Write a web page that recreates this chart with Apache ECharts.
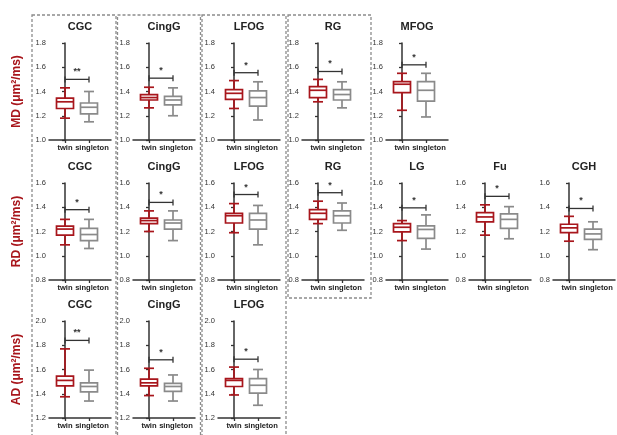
<!DOCTYPE html>
<html><head><meta charset="utf-8">
<script src="https://cdn.jsdelivr.net/npm/echarts@6/dist/echarts.min.js"></script>
<style>html,body{margin:0;padding:0;background:#fff}#c{width:617px;height:435px}</style>
</head><body><div id="c"></div>
<script>
// ---------------- data ----------------
const categories = ['twin', 'singleton'];
const measureNames = ['MD (μm²/ms)', 'RD (μm²/ms)', 'AD (μm²/ms)'];

// box data: [min, Q1, median, Q3, max]
const mdRegions = ['CGC', 'CingG', 'LFOG', 'RG', 'MFOG'];
const mdTwin = [
  [1.18, 1.26, 1.315, 1.345, 1.43],
  [1.265, 1.33, 1.35, 1.375, 1.435],
  [1.26, 1.335, 1.385, 1.415, 1.49],
  [1.315, 1.35, 1.41, 1.44, 1.50],
  [1.245, 1.39, 1.46, 1.482, 1.55]
];
const mdSingleton = [
  [1.15, 1.215, 1.27, 1.305, 1.40],
  [1.20, 1.29, 1.33, 1.36, 1.43],
  [1.165, 1.28, 1.35, 1.405, 1.48],
  [1.265, 1.33, 1.375, 1.415, 1.48],
  [1.19, 1.32, 1.41, 1.482, 1.55]
];
const mdBracket = [1.50, 1.51, 1.555, 1.565, 1.62];
const mdStars = ['**', '*', '*', '*', '*'];
const mdRange = [1.0, 1.8];

const rdRegions = ['CGC', 'CingG', 'LFOG', 'RG', 'LG', 'Fu', 'CGH'];
const rdTwin = [
  [1.09, 1.17, 1.22, 1.245, 1.30],
  [1.20, 1.265, 1.29, 1.31, 1.37],
  [1.19, 1.27, 1.33, 1.35, 1.43],
  [1.265, 1.30, 1.35, 1.38, 1.45],
  [1.125, 1.197, 1.235, 1.265, 1.29],
  [1.17, 1.28, 1.32, 1.355, 1.42],
  [1.12, 1.19, 1.23, 1.26, 1.325]
];
const rdSingleton = [
  [1.06, 1.125, 1.175, 1.225, 1.30],
  [1.125, 1.22, 1.27, 1.295, 1.37],
  [1.09, 1.22, 1.295, 1.35, 1.415],
  [1.21, 1.27, 1.33, 1.37, 1.435],
  [1.055, 1.143, 1.217, 1.247, 1.337],
  [1.14, 1.225, 1.30, 1.345, 1.405],
  [1.05, 1.135, 1.18, 1.22, 1.28]
];
const rdBracket = [1.38, 1.44, 1.505, 1.52, 1.395, 1.49, 1.39];
const rdStars = ['*', '*', '*', '*', '*', '*', '*'];
const rdRange = [0.8, 1.6];

const adRegions = ['CGC', 'CingG', 'LFOG'];
const adTwin = [
  [1.375, 1.465, 1.51, 1.545, 1.77],
  [1.385, 1.465, 1.49, 1.52, 1.61],
  [1.39, 1.46, 1.51, 1.525, 1.62]
];
const adSingleton = [
  [1.34, 1.415, 1.46, 1.49, 1.595],
  [1.34, 1.42, 1.46, 1.485, 1.555],
  [1.305, 1.405, 1.47, 1.525, 1.60]
];
const adBracket = [1.84, 1.68, 1.685];
const adStars = ['**', '*', '*'];
const adRange = [1.2, 2.0];

const yTickStep = 0.2;

// ---------------- layout / style ----------------
const colX = [49, 133, 218, 302, 386, 469, 553];
const rowTop = [43, 183, 321];
const plotW = 62, plotH = 97;
const pxPerCat = 24, firstCatOffset = 16;
const twinColor = '#a8161c';
const singletonColor = '#8a8a8a';
const axisColor = '#333';
const FONT = '"Liberation Sans", Arial, sans-serif';

const rows = [
  {regions: mdRegions, twin: mdTwin, single: mdSingleton, bracket: mdBracket, stars: mdStars, range: mdRange},
  {regions: rdRegions, twin: rdTwin, single: rdSingleton, bracket: rdBracket, stars: rdStars, range: rdRange},
  {regions: adRegions, twin: adTwin, single: adSingleton, bracket: adBracket, stars: adStars, range: adRange}
];

function renderBox(params, api) {
  const x = api.value(0);
  const c = x === 0 ? twinColor : singletonColor;
  const pMin = api.coord([x, api.value(1)]);
  const pQ1 = api.coord([x, api.value(2)]);
  const pMed = api.coord([x, api.value(3)]);
  const pQ3 = api.coord([x, api.value(4)]);
  const pMax = api.coord([x, api.value(5)]);
  const hw = 8.5, cw = 5, lw = 1.7;
  const ls = () => ({stroke: c, lineWidth: lw});
  const cx = pMed[0];
  return {type: 'group', children: [
    {type: 'line', shape: {x1: cx, y1: pMax[1], x2: cx, y2: pQ3[1]}, style: ls()},
    {type: 'line', shape: {x1: cx, y1: pQ1[1], x2: cx, y2: pMin[1]}, style: ls()},
    {type: 'line', shape: {x1: cx - cw, y1: pMax[1], x2: cx + cw, y2: pMax[1]}, style: ls()},
    {type: 'line', shape: {x1: cx - cw, y1: pMin[1], x2: cx + cw, y2: pMin[1]}, style: ls()},
    {type: 'rect', shape: {x: cx - hw, y: pQ3[1], width: 2 * hw, height: pQ1[1] - pQ3[1]}, style: {stroke: c, lineWidth: lw, fill: '#fff'}},
    {type: 'line', shape: {x1: cx - hw, y1: pMed[1], x2: cx + hw, y2: pMed[1]}, style: ls()}
  ]};
}

function renderBracket(params, api) {
  const x0 = api.value(0);
  const v = api.value(1);
  const p0 = api.coord([x0, v]);
  const p1 = api.coord([x0 + 1, v]);
  const star = params.context.star;
  const st = () => ({stroke: axisColor, lineWidth: 1.3});
  return {type: 'group', children: [
    {type: 'line', shape: {x1: p0[0], y1: p0[1], x2: p1[0], y2: p1[1]}, style: st()},
    {type: 'line', shape: {x1: p0[0], y1: p0[1] - 3, x2: p0[0], y2: p0[1] + 3}, style: st()},
    {type: 'line', shape: {x1: p1[0], y1: p1[1] - 3, x2: p1[0], y2: p1[1] + 3}, style: st()},
    {type: 'text', x: (p0[0] + p1[0]) / 2, y: p0[1] - 3, style: {text: star, textAlign: 'center', textVerticalAlign: 'bottom', font: 'bold 9px ' + FONT, fill: axisColor}}
  ]};
}

const grid = [], xAxis = [], yAxis = [], series = [], graphic = [];

// dashed column frames
const frames = [
  [32, 15, 84, 432], [117.5, 15, 83, 432], [202, 15, 84, 432], [288, 15, 83, 283]
];
frames.forEach(f => graphic.push({type: 'rect', silent: true, z: 0,
  shape: {x: f[0], y: f[1], width: f[2], height: f[3]},
  style: {fill: 'none', stroke: '#8c8c8c', lineWidth: 1.3, lineDash: [3, 2]}}));

const labelStyle = {fontSize: 7.6, fontWeight: 'bold', color: '#222', fontFamily: FONT, margin: 4,
  showMinLabel: true, showMaxLabel: true, hideOverlap: false};

let gi = 0;
rows.forEach((row, r) => {
  row.regions.forEach((name, i) => {
    const left = colX[i];
    const xMin = -firstCatOffset / pxPerCat, xMax = (plotW - firstCatOffset) / pxPerCat;
    grid.push({left: left, top: rowTop[r], width: plotW, height: plotH, outerBoundsMode: 'none', containLabel: false});
    const xi = xAxis.length;
    // main x axis: line, ticks, and the "twin" label
    xAxis.push({
      gridIndex: gi, type: 'value', position: 'bottom', min: xMin, max: xMax,
      axisLine: {show: true, onZero: false, lineStyle: {color: axisColor, width: 1.5}},
      axisTick: {show: true, customValues: [0, 1], length: 3, lineStyle: {color: axisColor, width: 1.3}},
      axisLabel: Object.assign({show: true, customValues: [0], formatter: v => categories[Math.round(v)] || ''}, labelStyle),
      splitLine: {show: false}
    });
    // companion x axis carrying the "singleton" label
    xAxis.push({
      gridIndex: gi, type: 'value', position: 'bottom', offset: 0, min: xMin, max: xMax,
      axisLine: {show: false}, axisTick: {show: false},
      axisLabel: Object.assign({show: true, customValues: [1], formatter: v => categories[Math.round(v)] || '',
        padding: [0, 0, 0, 6]}, labelStyle),
      splitLine: {show: false}
    });
    yAxis.push({
      gridIndex: gi, type: 'value', min: row.range[0], max: row.range[1], interval: yTickStep,
      axisLine: {show: true, lineStyle: {color: axisColor, width: 1.5}},
      axisTick: {show: true, length: 3, lineStyle: {color: axisColor, width: 1.3}},
      axisLabel: {fontSize: 7.5, color: '#333', fontFamily: FONT, margin: 3, formatter: v => v.toFixed(1)},
      splitLine: {show: false},
      name: i === 0 ? measureNames[r] : '',
      nameLocation: 'middle', nameGap: 26,
      nameTextStyle: {color: twinColor, fontSize: 12, fontWeight: 'bold', fontFamily: FONT}
    });
    series.push({
      type: 'custom', xAxisIndex: xi, yAxisIndex: gi,
      renderItem: renderBox,
      encode: {x: 0, y: [1, 2, 3, 4, 5]},
      data: [[0].concat(row.twin[i]), [1].concat(row.single[i])],
      silent: true
    });
    const star = row.stars[i];
    series.push({
      type: 'custom', xAxisIndex: xi, yAxisIndex: gi,
      renderItem: function (params, api) { params.context.star = star; return renderBracket(params, api); },
      encode: {x: 0, y: 1},
      data: [[0, row.bracket[i]]],
      silent: true
    });
    graphic.push({type: 'text', silent: true,
      x: left + plotW / 2, y: rowTop[r] - 16,
      style: {text: name, textAlign: 'center', textVerticalAlign: 'middle', font: 'bold 11px ' + FONT, fill: '#222'}});
    gi++;
  });
});

const chart = echarts.init(document.getElementById('c'), null, {renderer: 'canvas'});
chart.setOption({animation: false, backgroundColor: '#fff', grid, xAxis, yAxis, series, graphic});
</script>
</body></html>
